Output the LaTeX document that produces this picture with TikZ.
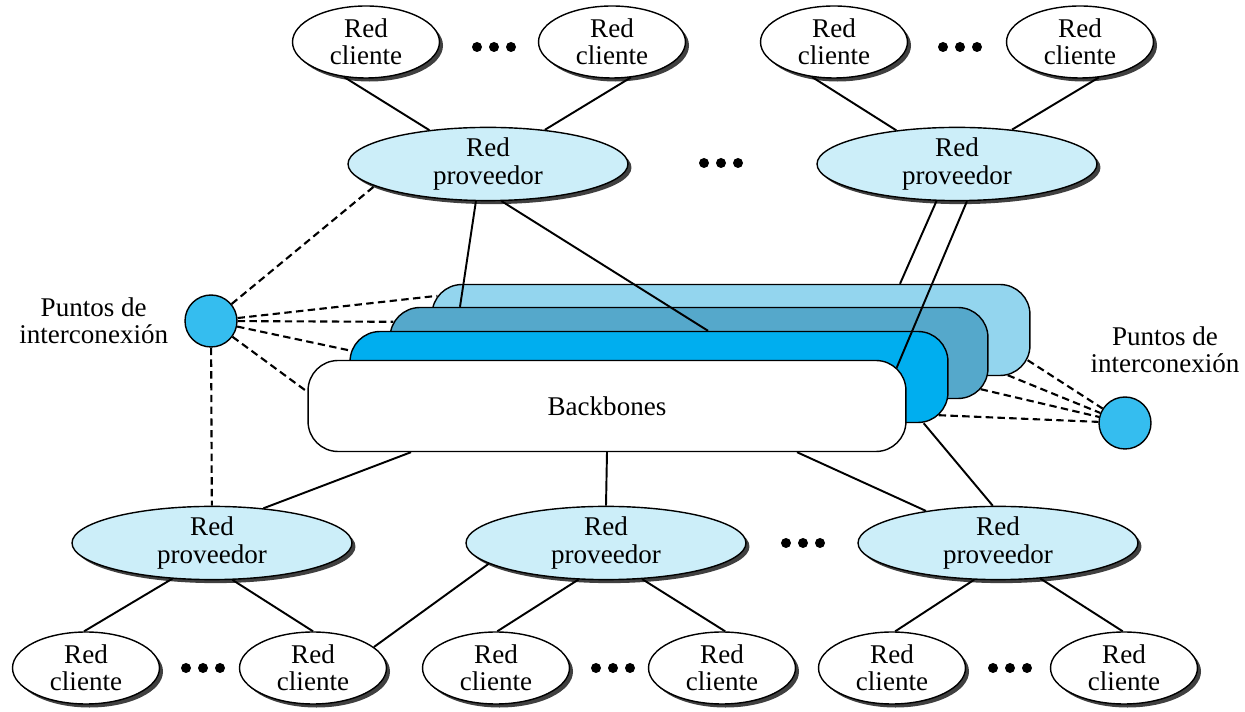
\documentclass[tikz,border=0pt]{standalone}
\usepackage{fontspec}
\setmainfont{Liberation Serif}
\usetikzlibrary{shapes.geometric,shadows,positioning}
\definecolor{provfill}{HTML}{CCEEF9}
\definecolor{puntofill}{HTML}{35BDEF}
\definecolor{capa1}{HTML}{93D5EE}
\definecolor{capa2}{HTML}{55A8CB}
\definecolor{capa3}{HTML}{00AEEF}
\begin{document}
\begin{tikzpicture}[x=0.02cm,y=-0.02cm,font=\fontsize{15.4}{15.5}\selectfont,
  cliente/.style={ellipse,draw,line width=0.8pt,fill=white,minimum width=2.94cm,minimum height=1.44cm,inner sep=0pt,align=center,
    drop shadow={shadow xshift=2pt,shadow yshift=-2pt,fill=black!75,opacity=1}},
  proveedor/.style={cliente,fill=provfill,minimum width=5.6cm,minimum height=1.46cm},
  capa/.style={draw,line width=0.8pt,rounded corners=0.6cm,minimum width=11.96cm,minimum height=1.82cm},
  punto/.style={circle,draw,line width=0.8pt,fill=puntofill,minimum size=1.04cm,inner sep=0pt},
  enlace/.style={line width=1.1pt},
  discont/.style={line width=1.2pt,dash pattern=on 4.2pt off 2.5pt}]
\useasboundingbox (0,0) rectangle (1245,712);
% backbones, from back to front
\node[capa,fill=capa1] (bb1) at (731,330) {};
\node[capa,fill=capa2] (bb2) at (689,353) {};
\node[capa,fill=capa3] (bb3) at (649,377) {};
\node[capa,fill=white] (bb4) at (607,406) {Backbones};
% provider networks
\node[proveedor] (p1) at (488,164) {Red\\proveedor};
\node[proveedor] (p2) at (957,164) {Red\\proveedor};
\node[proveedor] (p3) at (212,543) {Red\\proveedor};
\node[proveedor] (p4) at (606,543) {Red\\proveedor};
\node[proveedor] (p5) at (998,543) {Red\\proveedor};
% client networks
\node[cliente] (c1) at (366,42) {Red\\cliente};
\node[cliente] (c2) at (612,42) {Red\\cliente};
\node[cliente] (c3) at (834,42) {Red\\cliente};
\node[cliente] (c4) at (1080,42) {Red\\cliente};
\node[cliente] (c5) at (86,668) {Red\\cliente};
\node[cliente] (c6) at (313,668) {Red\\cliente};
\node[cliente] (c7) at (496,668) {Red\\cliente};
\node[cliente] (c8) at (722,668) {Red\\cliente};
\node[cliente] (c9) at (892,668) {Red\\cliente};
\node[cliente] (c10) at (1124,668) {Red\\cliente};
% interconnection points
\node[punto] (pi1) at (211,321) {};
\node[punto] (pi2) at (1125,423) {};
\node[align=center,left=0.2cm of pi1] (et1) {Puntos de\\interconexión};
\node[align=center] (et2) at (1165,350) {Puntos de\\interconexión};
% dots
\foreach \x/\y in {494/47,960/47,721/163,803/543,203/668,613/668,1010/668}
  \foreach \d in {-17,0,17}
    \fill ({\x+\d},\y) circle (0.1cm);
% links
\draw[enlace] (c1.-122) -- (p1.150);
\draw[enlace] (c2.-62) -- (p1.31);
\draw[enlace] (c3.-122) -- (p2.151);
\draw[enlace] (c4.-62) -- (p2.32);
\draw[enlace] (p1.-108) -- ([shift={(-229,0)}]bb2.north);
\draw[enlace] (p1.-70) -- ([shift={(59,0)}]bb3.north);
\draw[enlace] (p2.-119) -- ([shift={(169,0)}]bb1.north);
\draw[enlace] (p2.-75) -- ([shift={(-10,8)}]bb4.north east);
\draw[enlace] ([shift={(-196,0)}]bb4.south) -- (p3.34);
\draw[enlace] (bb4.south) -- (p4.north);
\draw[enlace] ([shift={(190,0)}]bb4.south) -- (p5.156);
\draw[enlace] ([shift={(-25,0)}]bb3.south east) -- (p5.98);
\draw[enlace] (p3.-138) -- (c5.93);
\draw[enlace] (p3.-61) -- (c6.90);
\draw[enlace] (p4.-170) -- (c6.19);
\draw[enlace] (p4.-127) -- (c7.88);
\draw[enlace] (p4.-45) -- (c8.85);
\draw[enlace] (p5.-123) -- (c9.85);
\draw[enlace] (p5.-40) -- (c10.92);
% dashed links to the interconnection points
\draw[discont] (pi1) -- (p1.-169);
\draw[discont] (pi1) -- ([shift={(6,12)}]bb1.north west);
\draw[discont] (pi1) -- ([shift={(4,15)}]bb2.north west);
\draw[discont] (pi1) -- ([shift={(2,20)}]bb3.north west);
\draw[discont] (pi1) -- ([shift={(0,32)}]bb4.north west);
\draw[discont] (pi1) -- (p3);
\draw[discont] ([shift={(-3,-16)}]bb1.south east) -- (pi2);
\draw[discont] ([shift={(-23,-1)}]bb1.south east) -- (pi2);
\draw[discont] ([shift={(-8,-10)}]bb2.south east) -- (pi2);
\draw[discont] ([shift={(-10,-8)}]bb3.south east) -- (pi2);
\end{tikzpicture}
\end{document}
